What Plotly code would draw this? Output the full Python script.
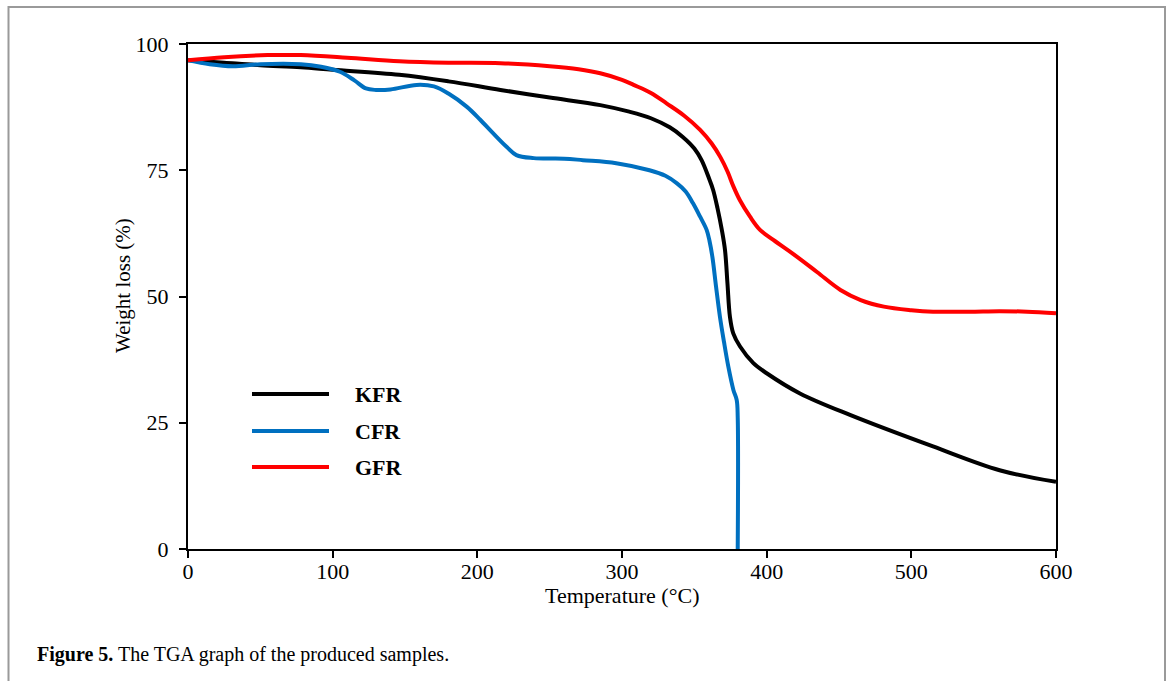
import plotly.graph_objects as go

# ---- data ----
kfr_x = [0, 25, 50, 78, 100, 146, 180, 216, 250, 285, 305, 320, 333, 342, 350, 355, 360, 363, 366, 369,
         371.2, 372.9, 374.6, 376.9, 381.6, 390.8, 400, 423, 458, 515, 561, 600]
kfr_y = [96.8, 96.3, 95.8, 95.4, 94.9, 93.9, 92.6, 90.9, 89.4, 87.9, 86.6, 85.3, 83.5, 81.6, 79.3, 77.0,
         73.5, 71.1, 67.5, 63.2, 59.2, 52.6, 46.0, 42.7, 40.1, 36.8, 34.8, 30.8, 26.5, 20.3, 15.6, 13.3]

cfr_x = [0, 15, 31, 50, 78, 92, 105, 115, 123, 130, 140, 158, 170, 180, 192.6, 202, 211, 220, 227, 239,
         260, 273, 296, 319, 330, 338, 344, 349, 354, 358.5, 360.5, 362.5, 365, 367.7, 370.5, 373.5, 377,
         379.3, 380, 380]
cfr_y = [96.8, 96.0, 95.6, 96.0, 96.0, 95.5, 94.5, 92.8, 91.2, 90.9, 91.0, 91.9, 91.6, 90.2, 87.6, 85.0,
         82.3, 79.7, 78.0, 77.4, 77.3, 77.0, 76.4, 75.0, 73.9, 72.4, 70.8, 68.5, 65.8, 63.2, 61.0, 57.8,
         52.0, 46.0, 41.0, 36.1, 31.5, 29.5, 26.0, 0.0]

gfr_x = [0, 25, 55, 78, 110, 146, 180, 216, 250, 270, 285, 300, 308, 320, 331, 343, 354, 362, 368, 373,
         377, 381.6, 388.5, 395.4, 404.6, 420.8, 435, 451, 465, 481, 500, 515, 540, 561, 580, 600]
gfr_y = [96.8, 97.4, 97.8, 97.8, 97.3, 96.6, 96.3, 96.2, 95.6, 95.0, 94.2, 92.9, 91.9, 90.3, 88.2, 85.8,
         83.0, 80.3, 77.6, 74.7, 71.8, 69.0, 65.8, 63.2, 61.2, 57.9, 54.8, 51.3, 49.3, 48.0, 47.3, 47.0,
         47.0, 47.1, 47.0, 46.7]

series_names = ["KFR", "CFR", "GFR"]
series_colors = ["#000000", "#0070C0", "#FF0000"]

x_ticks = [0, 100, 200, 300, 400, 500, 600]
y_ticks = [0, 25, 50, 75, 100]

FONT = "Liberation Serif, Times New Roman, serif"

fig = go.Figure()
for name, xs, ys, col in zip(series_names, [kfr_x, cfr_x, gfr_x], [kfr_y, cfr_y, gfr_y], series_colors):
    fig.add_trace(go.Scatter(x=xs, y=ys, mode="lines", name=name,
                             line=dict(color=col, width=4, shape="spline", smoothing=1.0),
                             showlegend=False, hoverinfo="skip"))

W, H = 1171, 681
L, R, T, B = 188, 1056, 44, 549
pw, ph = R - L, B - T

def px(xp):
    return (xp - L) / pw

def py(yp):
    return (B - yp) / ph

fig.update_layout(
    width=W, height=H,
    margin=dict(l=L, r=W - R, t=T, b=H - B),
    paper_bgcolor="white", plot_bgcolor="white",
    font=dict(family=FONT, size=22, color="black"),
    xaxis=dict(range=[0, 600], tickvals=x_ticks, ticks="outside", ticklen=7, tickwidth=2,
               tickcolor="black", showline=True, linewidth=2, linecolor="black", mirror=True,
               showgrid=False, zeroline=False, tickfont=dict(family=FONT, size=22),
               ticklabelstandoff=-5),
    yaxis=dict(range=[0, 100], tickvals=y_ticks, ticks="outside", ticklen=7, tickwidth=2,
               tickcolor="black", showline=True, linewidth=2, linecolor="black", mirror=True,
               showgrid=False, zeroline=False, tickfont=dict(family=FONT, size=22),
               ticklabelstandoff=6),
)

# axis titles
fig.add_annotation(x=px(622), y=py(595), xref="paper", yref="paper", text="Temperature (°C)",
                   showarrow=False, font=dict(family=FONT, size=22), xanchor="center", yanchor="middle")
fig.add_annotation(x=px(123), y=py(286), xref="paper", yref="paper", text="Weight loss (%)",
                   textangle=-90, showarrow=False, font=dict(family=FONT, size=21),
                   xanchor="center", yanchor="middle")

# custom legend
leg_y = [394, 431, 467]
for name, col, yy in zip(series_names, series_colors, leg_y):
    fig.add_shape(type="line", xref="paper", yref="paper", x0=px(252), x1=px(329), y0=py(yy), y1=py(yy),
                  line=dict(color=col, width=4))
    fig.add_annotation(x=px(353), y=py(yy), xref="paper", yref="paper", text="<b>%s</b>" % name,
                       showarrow=False, xanchor="left", yanchor="middle",
                       font=dict(family=FONT, size=22, color="black"))

# caption
fig.add_annotation(x=px(35), y=py(654), xref="paper", yref="paper",
                   text="<b>Figure 5.</b> The TGA graph of the produced samples.",
                   showarrow=False, xanchor="left", yanchor="middle",
                   font=dict(family=FONT, size=20, color="black"))

# outer frame
fig.add_shape(type="rect", xref="paper", yref="paper", x0=px(8.5), x1=px(1165), y0=py(700), y1=py(7),
              line=dict(color="#9a9a9a", width=2), fillcolor="rgba(0,0,0,0)", layer="below")

fig.write_html("out.html", config={"displayModeBar": False},
               post_script="document.body.style.margin='0';document.body.style.overflow='hidden';")
